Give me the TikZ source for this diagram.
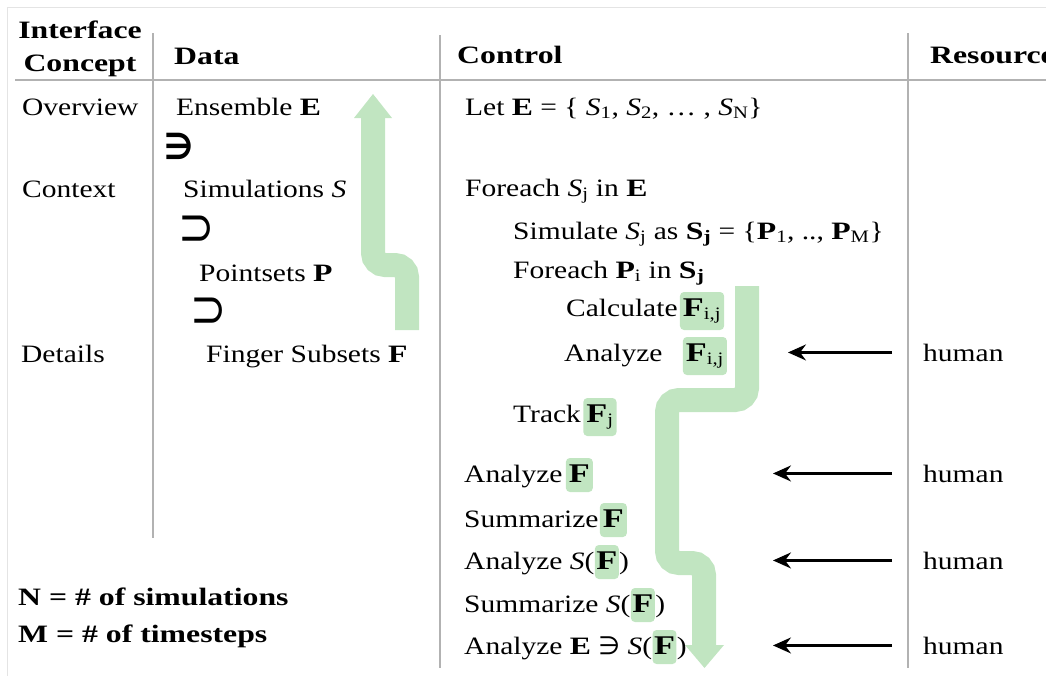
\documentclass[tikz,border=0pt]{standalone}
\usepackage{fontspec}
\setmainfont{Liberation Serif}[FakeStretch=1.18, BoldFeatures={FakeStretch=1.27}]
\newfontfamily\symfont{DejaVu Sans}
\usetikzlibrary{arrows.meta}
\definecolor{hlgreen}{RGB}{193,229,193}
\definecolor{rulegray}{RGB}{178,178,178}
\definecolor{framegray}{RGB}{228,228,228}
\newcommand{\bigF}{{\fontsize{27}{30}\selectfont\textbf{F}}}
\tikzset{
  txt/.style={anchor=base west, inner sep=0pt, font=\fontsize{25}{30}\selectfont},
  hdr/.style={txt, font=\fontsize{25}{30}\selectfont\bfseries},
  settxt/.style={anchor=base west, inner sep=0pt, font=\fontsize{54}{54}\selectfont\symfont},
  hl/.style={anchor=base west, fill=hlgreen, rounded corners=4pt, inner xsep=3pt, inner ysep=4pt,
             text height=20pt, text depth=6pt, font=\fontsize{25}{30}\selectfont},
  hls/.style={hl, text depth=10pt},
  colrule/.style={draw=rulegray, line width=1.8pt},
  flow/.style={draw=hlgreen, line width=24pt, rounded corners=12pt},
  harrow/.style={-{Stealth[length=18pt,width=16pt,inset=6pt]}, line width=2.2pt},
}
\begin{document}
\begin{tikzpicture}[x=1pt,y=-1pt]
\useasboundingbox (0,0) rectangle (1046,675);
% frame and rules
\draw[framegray, line width=1pt] (7,690) -- (7,7) -- (1060,7);
\draw[colrule] (15,80) -- (1060,80);
\draw[colrule] (153,33) -- (153,538);
\draw[colrule] (440,35) -- (440,668);
\draw[colrule] (908,33) -- (908,668);
% green flows
\draw[flow] (407,330) -- (407,265) -- (373,265) -- (373,116);
\fill[hlgreen] (354,118) -- (392,118) -- (373,94) -- cycle;
\draw[flow] (747,286) -- (747,400) -- (667,400) -- (667,563) -- (704,563) -- (704,647);
\fill[hlgreen] (685,645) -- (724,645) -- (704.5,668) -- cycle;
% header
\node[hdr, anchor=base] (ic1) at (80,38) {Interface};
\node[hdr, anchor=base] (ic2) at (80,71) {Concept};
\node[hdr] (hdata) at (174,64) {Data};
\node[hdr] (hctrl) at (457,63) {Control};
\node[hdr] (hres) at (930,63) {Resource};
% interface concept column
\node[txt] (ov) at (22,115) {Overview};
\node[txt] (ct) at (22,197) {Context};
\node[txt] (dt) at (21,362) {Details};
% data column
\node[txt] (ens) at (176,115) {Ensemble \textbf{E}};
\node[settxt, font=\fontsize{36}{36}\selectfont\symfont\bfseries] (ni) at (164,159) {\scalebox{0.9}[1]{∋}};
\node[txt] (sim) at (183,197) {Simulations \textit{S}};
\node[settxt] (sup1) at (178,245) {\scalebox{0.8}[1]{⊃}};
\node[txt] (pts) at (199,281) {Pointsets \textbf{P}};
\node[settxt] (sup2) at (190,327) {\scalebox{0.8}[1]{⊃}};
\node[txt] (fin) at (206,362) {Finger Subsets \textbf{F}};
% control column
\node[txt] (let) at (465,115) {Let \textbf{E} = \{ \textit{S}\textsubscript{1}, \textit{S}\textsubscript{2}, … , \textit{S}\textsubscript{N}\}};
\node[txt] (fe) at (465,196) {Foreach \textit{S}\textsubscript{j} in \textbf{E}};
\node[txt] (simu) at (513,239) {Simulate \textit{S}\textsubscript{j} as \textbf{S\textsubscript{j}} = \{\textbf{P}\textsubscript{1}, .., \textbf{P}\textsubscript{M}\}};
\node[txt] (fep) at (513,278) {Foreach \textbf{P}\textsubscript{i} in \textbf{S\textsubscript{j}}};
\node[txt] (calc) at (566,316) {Calculate};
\node[hls] (calcF) at ([xshift=2pt]calc.base east) {\bigF\textsubscript{i,j}};
\node[txt] (an1) at (564,361) {Analyze};
\node[hls] (an1F) at ([xshift=20pt]an1.base east) {\bigF\textsubscript{i,j}};
\node[txt] (trk) at (513,422) {Track};
\node[hls] (trkF) at ([xshift=2pt]trk.base east) {\bigF\textsubscript{j}};
\node[txt] (an2) at (464,482) {Analyze};
\node[hl] (an2F) at ([xshift=3pt]an2.base east) {\bigF};
\node[txt] (su1) at (464,527) {Summarize};
\node[hl] (su1F) at ([xshift=1pt]su1.base east) {\bigF};
\node[txt] (an3) at (464,569) {Analyze \textit{S}(};
\node[hl, inner xsep=1.5pt] (an3F) at (an3.base east) {\bigF};
\node[txt] (an3c) at (an3F.base east) {)};
\node[txt] (su2) at (464,612) {Summarize \textit{S}(};
\node[hl, inner xsep=1.5pt] (su2F) at (su2.base east) {\bigF};
\node[txt] (su2c) at (su2F.base east) {)};
\node[txt] (an4) at (464,654) {Analyze \textbf{E} {\symfont ∋} \textit{S}(};
\node[hl, inner xsep=1.5pt] (an4F) at (an4.base east) {\bigF};
\node[txt] (an4c) at (an4F.base east) {)};
% resource column
\node[txt] (h1) at (923,361) {human};
\node[txt] (h2) at (923,482) {human};
\node[txt] (h3) at (923,569) {human};
\node[txt] (h4) at (923,654) {human};
\draw[harrow] ([xshift=-31pt]h1.west) -- ([xshift=-135pt]h1.west);
\draw[harrow] ([xshift=-31pt]h2.west) -- ([xshift=-150pt]h2.west);
\draw[harrow] ([xshift=-31pt]h3.west) -- ([xshift=-150pt]h3.west);
\draw[harrow] ([xshift=-31pt]h4.west) -- ([xshift=-150pt]h4.west);
% notes
\node[hdr] (nn) at (18,605) {N = \# of simulations};
\node[hdr] (mm) at (18,642) {M = \# of timesteps};
\end{tikzpicture}
\end{document}
